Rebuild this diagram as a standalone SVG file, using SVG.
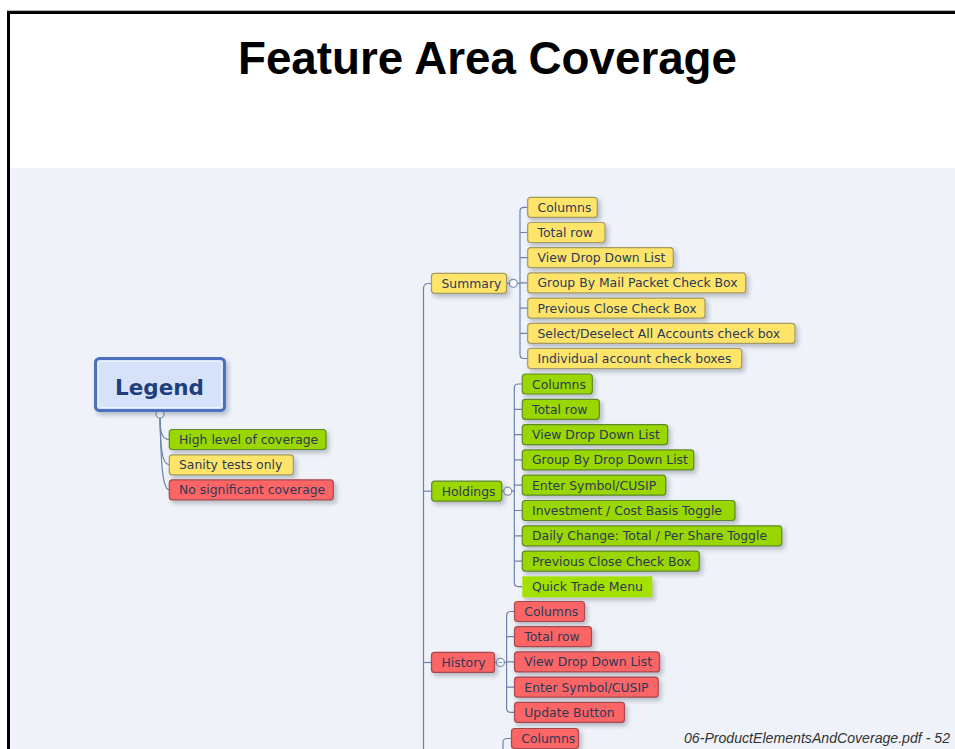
<svg xmlns="http://www.w3.org/2000/svg" width="955" height="749" viewBox="0 0 955 749">
  <defs>
    <filter id="sh" x="-10%" y="-30%" width="130%" height="180%">
      <feDropShadow dx="2.5" dy="3" stdDeviation="2" flood-color="#1a2a40" flood-opacity="0.28"/>
    </filter>
    <style>
      .title { font-family: "Liberation Sans", Arial, sans-serif; font-weight: bold; font-size: 46px; fill: #000; }
      .foot { font-family: "Liberation Sans", Arial, sans-serif; font-style: italic; font-size: 14px; fill: #333; }
      .n rect { rx: 3; ry: 3; stroke-width: 1.2; filter: url(#sh); }
      .n text { font-family: "DejaVu Sans", Verdana, sans-serif; font-size: 12.4px; fill: #2c3a58; }
      .y rect { fill: #fee56a; stroke: #a49a62; }
      .g rect { fill: #9ad600; stroke: #5e8a2a; }
      .r rect { fill: #fc6565; stroke: #a44a50; }
      .q rect { fill: #a4e000; stroke: none; rx: 0; ry: 0; }
      .c { fill: none; stroke: #6c84aa; stroke-width: 1.2; }
      .knob { fill: #fff; stroke: #7f93b5; stroke-width: 1.2; }
    </style>
  </defs>

  <!-- page -->
  <rect x="0" y="0" width="955" height="749" fill="#fff"/>
  <rect x="10" y="168" width="945" height="581" fill="#eff2f8"/>
  <path d="M8.5,749 V12.5 H955" fill="none" stroke="#000" stroke-width="3"/>
  <line x1="7" y1="10.6" x2="955" y2="10.6" stroke="#999" stroke-width="0.8"/>

  <text class="title" x="487.5" y="74" text-anchor="middle" textLength="499" lengthAdjust="spacingAndGlyphs">Feature Area Coverage</text>

  <!-- connectors -->
  <g id="connectors">
    <!-- legend -->
    <path class="c" d="M160,418 C160,430 161,439.5 169.3,439.5"/>
    <path class="c" d="M160,418 C160.5,445 161.5,464.8 169.3,464.8"/>
    <path class="c" d="M160,418 C161,460 162,489.8 169.3,489.8"/>
    <circle class="knob" cx="160" cy="414" r="4"/>

    <!-- main spine -->
    <path class="c" d="M431.5,283.5 H428.5 Q423.5,283.5 423.5,288.5 V749"/>
    <path class="c" d="M423.5,491.2 H431.7"/>
    <path class="c" d="M423.5,662.5 H431.5"/>

    <!-- summary branch -->
    <path class="c" d="M506.5,283.3 H509.3 M517.3,283.3 H520"/>
    <path class="c" d="M527.7,207.3 H524 Q520,207.3 520,211.3 V354.5 Q520,358.5 524,358.5 H527.7"/>
    <path class="c" d="M520,232.5 H527.7 M520,257.7 H527.7 M520,282.9 H527.7 M520,308.1 H527.7 M520,333.3 H527.7"/>
    <circle class="knob" cx="513.3" cy="283.3" r="4"/>

    <!-- holdings branch -->
    <path class="c" d="M501.7,491.2 H503.7 M511.7,491.2 H514.3"/>
    <path class="c" d="M522.3,384 H518.3 Q514.3,384 514.3,388 V582.6 Q514.3,586.6 518.3,586.6 H522.3"/>
    <path class="c" d="M514.3,409.3 H522.3 M514.3,434.6 H522.3 M514.3,459.9 H522.3 M514.3,485.2 H522.3 M514.3,510.5 H522.3 M514.3,535.8 H522.3 M514.3,561.1 H522.3"/>
    <circle class="knob" cx="507.7" cy="491.2" r="4"/>

    <!-- history branch -->
    <path class="c" d="M494.5,662.4 H496.4 M504.4,662.4 H506.6"/>
    <path class="c" d="M514.5,611.5 H510.6 Q506.6,611.5 506.6,615.5 V708.3 Q506.6,712.3 510.6,712.3 H514.5"/>
    <path class="c" d="M506.6,636.7 H514.5 M506.6,661.9 H514.5 M506.6,687.1 H514.5"/>
    <circle class="knob" cx="500.4" cy="662.4" r="4"/>
    <path d="M498.4,662.4 H502.4" stroke="#7f93b5" stroke-width="1"/>

    <!-- next branch -->
    <path class="c" d="M511.5,738.5 H507 Q503,738.5 503,742.5 V749"/>
  </g>

  <!-- legend -->
  <g id="legend">
    <rect x="95.5" y="358.5" width="129" height="52" rx="4" ry="4" fill="#d5e2fa" stroke="#4c6fc0" stroke-width="3" filter="url(#sh)"/>
    <rect x="98.5" y="361.5" width="123" height="46" rx="2" ry="2" fill="none" stroke="#eef3fd" stroke-width="1"/>
    <text x="159.5" y="395" text-anchor="middle" font-family="DejaVu Sans, Verdana, sans-serif" font-weight="bold" font-size="21.5px" fill="#1f3f7c">Legend</text>
  </g>
  <g id="legend-high" class="n g"><rect x="169.3" y="429.5" width="156.7" height="20"/><text x="179" y="444">High level of coverage</text></g>
  <g id="legend-sanity" class="n y"><rect x="169.3" y="454.8" width="124" height="20"/><text x="179" y="469.3">Sanity tests only</text></g>
  <g id="legend-none" class="n r"><rect x="169.3" y="479.8" width="164" height="20"/><text x="179" y="494.3">No significant coverage</text></g>

  <!-- summary -->
  <g id="summary" class="n y"><rect x="431.5" y="273.3" width="75" height="20"/><text x="441.5" y="287.8">Summary</text></g>
  <g id="summary-columns" class="n y"><rect x="527.7" y="197.3" width="69.6" height="20"/><text x="537.5" y="211.8">Columns</text></g>
  <g id="summary-total" class="n y"><rect x="527.7" y="222.5" width="77.3" height="20"/><text x="537.5" y="237">Total row</text></g>
  <g id="summary-view" class="n y"><rect x="527.7" y="247.7" width="145.6" height="20"/><text x="537.5" y="262.2">View Drop Down List</text></g>
  <g id="summary-group" class="n y"><rect x="527.7" y="272.9" width="218" height="20"/><text x="537.5" y="287.4">Group By Mail Packet Check Box</text></g>
  <g id="summary-prevclose" class="n y"><rect x="527.7" y="298.1" width="177.3" height="20"/><text x="537.5" y="312.6">Previous Close Check Box</text></g>
  <g id="summary-selectall" class="n y"><rect x="527.7" y="323.3" width="267.3" height="20"/><text x="537.5" y="337.8">Select/Deselect All Accounts check box</text></g>
  <g id="summary-individual" class="n y"><rect x="527.7" y="348.5" width="214" height="20"/><text x="537.5" y="363">Individual account check boxes</text></g>

  <!-- holdings -->
  <g id="holdings" class="n g"><rect x="431.7" y="481.2" width="70" height="20"/><text x="441.7" y="495.7">Holdings</text></g>
  <g id="holdings-columns" class="n g"><rect x="522.3" y="374" width="70" height="20"/><text x="532" y="388.5">Columns</text></g>
  <g id="holdings-total" class="n g"><rect x="522.3" y="399.3" width="77" height="20"/><text x="532" y="413.8">Total row</text></g>
  <g id="holdings-view" class="n g"><rect x="522.3" y="424.6" width="145.4" height="20"/><text x="532" y="439.1">View Drop Down List</text></g>
  <g id="holdings-group" class="n g"><rect x="522.3" y="449.9" width="171.4" height="20"/><text x="532" y="464.4">Group By Drop Down List</text></g>
  <g id="holdings-symbol" class="n g"><rect x="522.3" y="475.2" width="143.4" height="20"/><text x="532" y="489.7">Enter Symbol/CUSIP</text></g>
  <g id="holdings-investment" class="n g"><rect x="522.3" y="500.5" width="212.7" height="20"/><text x="532" y="515">Investment / Cost Basis Toggle</text></g>
  <g id="holdings-daily" class="n g"><rect x="522.3" y="525.8" width="259.4" height="20"/><text x="532" y="540.3">Daily Change: Total / Per Share Toggle</text></g>
  <g id="holdings-prevclose" class="n g"><rect x="522.3" y="551.1" width="177" height="20"/><text x="532" y="565.6">Previous Close Check Box</text></g>
  <g id="holdings-quicktrade" class="n q"><rect x="522.3" y="576.4" width="130" height="21"/><text x="532" y="591.4">Quick Trade Menu</text></g>

  <!-- history -->
  <g id="history" class="n r"><rect x="431.5" y="652.4" width="63" height="20"/><text x="441.5" y="666.9">History</text></g>
  <g id="history-columns" class="n r"><rect x="514.5" y="601.5" width="70" height="20"/><text x="524.3" y="616">Columns</text></g>
  <g id="history-total" class="n r"><rect x="514.5" y="626.7" width="77" height="20"/><text x="524.3" y="641.2">Total row</text></g>
  <g id="history-view" class="n r"><rect x="514.5" y="651.9" width="145" height="20"/><text x="524.3" y="666.4">View Drop Down List</text></g>
  <g id="history-symbol" class="n r"><rect x="514.5" y="677.1" width="143.7" height="20"/><text x="524.3" y="691.6">Enter Symbol/CUSIP</text></g>
  <g id="history-update" class="n r"><rect x="514.5" y="702.3" width="110" height="20"/><text x="524.3" y="716.8">Update Button</text></g>

  <!-- next branch, continues below the page edge -->
  <g id="next-columns" class="n r"><rect x="511.5" y="728.5" width="67" height="20"/><text x="521.3" y="743">Columns</text></g>

  <text class="foot" x="684" y="743" textLength="266" lengthAdjust="spacingAndGlyphs">06-ProductElementsAndCoverage.pdf - 52</text>
</svg>
